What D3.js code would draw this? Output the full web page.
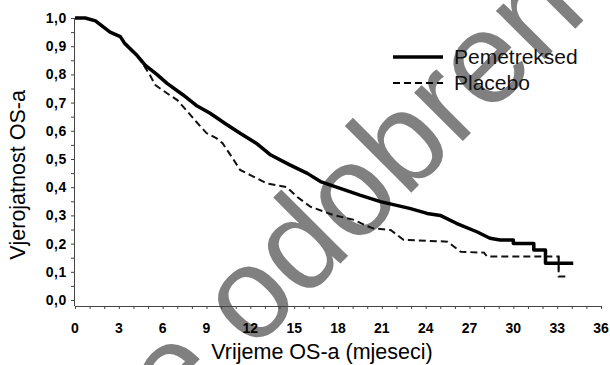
<!DOCTYPE html>
<html>
<head>
<meta charset="utf-8">
<script src="https://cdn.jsdelivr.net/npm/d3@7.9.0/dist/d3.min.js"></script>
<style>
  body { margin: 0; background: #fff; }
  svg { display: block; font-family: "Liberation Sans", Arial, sans-serif; }
</style>
</head>
<body>
<svg id="chart" width="610" height="365"></svg>
<script>
// Kaplan-Meier curves (months, survival probability)
const pemMonths = [0, 0.7, 1.4, 2.4, 3.1, 3.4, 4.2, 4.8, 5.6, 6.3, 7.4, 8.3, 9.25, 10.3, 11.3, 12.4, 13.4, 14.7, 15.9, 16.8, 18.15, 19.5, 20.9, 22.9, 24.1, 25.0, 26.1, 27.5, 28.4, 29.1, 30.0, 30.0, 31.4, 31.4, 32.2, 32.2, 34.1];
const pemSurv   = [1.0, 1.0, 0.99, 0.95, 0.934, 0.91, 0.87, 0.833, 0.80, 0.768, 0.727, 0.69, 0.662, 0.625, 0.591, 0.556, 0.514, 0.479, 0.449, 0.42, 0.396, 0.372, 0.349, 0.325, 0.307, 0.30, 0.272, 0.242, 0.219, 0.213, 0.213, 0.20, 0.20, 0.177, 0.177, 0.13, 0.13];

const plaMonths = [0, 0.7, 1.4, 2.4, 3.1, 3.4, 4.2, 4.8, 5.1, 5.5, 6.3, 7.0, 7.6, 8.3, 9.0, 9.7, 10.1, 10.8, 11.3, 12.0, 13.1, 14.5, 15.2, 16.1, 17.7, 19.1, 20.0, 20.4, 21.6, 22.5, 25.5, 26.4, 28.0, 28.2, 33.1, 33.1, 33.7];
const plaSurv   = [1.0, 1.0, 0.99, 0.95, 0.934, 0.91, 0.87, 0.825, 0.80, 0.762, 0.733, 0.709, 0.674, 0.632, 0.592, 0.573, 0.556, 0.502, 0.461, 0.443, 0.414, 0.40, 0.366, 0.331, 0.301, 0.284, 0.262, 0.254, 0.248, 0.213, 0.207, 0.171, 0.168, 0.154, 0.154, 0.083, 0.083];

const censorPem = [[33.1, 0.13]];

const xTicks = [0, 3, 6, 9, 12, 15, 18, 21, 24, 27, 30, 33, 36];
const yTicks = [0, 0.1, 0.2, 0.3, 0.4, 0.5, 0.6, 0.7, 0.8, 0.9, 1.0];
const seriesNames = ["Pemetreksed", "Placebo"];

const svg = d3.select('#chart');

// watermark sits under everything
const wm = svg.append('g').attr('transform', 'translate(252,352) rotate(-45)')
    .attr('fill', '#808080').attr('font-size', 130);
wm.append('text').attr('text-anchor', 'end').text('Lijek više nije\u00a0');
wm.append('text').attr('text-anchor', 'start').text('odobren');

const x = d3.scaleLinear().domain([0, 36]).range([75, 601]);
const y = d3.scaleLinear().domain([0, 1]).range([300, 18]);

// axes
const xAxis = svg.append('g').attr('transform', 'translate(0,306)')
    .call(d3.axisBottom(x).tickValues(d3.range(0, 37)).tickFormat('').tickSize(3).tickSizeOuter(0));
const yAxis = svg.append('g').attr('transform', 'translate(74,0)')
    .call(d3.axisLeft(y).tickValues(d3.range(0, 1.001, 0.05)).tickFormat('').tickSize(3).tickSizeOuter(0));
svg.selectAll('.domain, .tick line').attr('stroke', '#444').attr('stroke-width', 1);
yAxis.select('.domain').attr('d', 'M0.5,18V306');

svg.append('g').selectAll('text').data(xTicks).join('text')
    .attr('x', d => x(d)).attr('y', 333)
    .attr('text-anchor', 'middle').attr('font-size', 14).attr('font-weight', 'bold')
    .text(d => d);

svg.append('g').selectAll('text').data(yTicks).join('text')
    .attr('x', 67).attr('y', d => y(d) + 5)
    .attr('text-anchor', 'end').attr('font-size', 14).attr('font-weight', 'bold')
    .attr('letter-spacing', 0.6)
    .text(d => d3.format('.1f')(d).replace('.', ','));

svg.append('text').attr('x', 322).attr('y', 359)
    .attr('text-anchor', 'middle').attr('font-size', 21.5)
    .text('Vrijeme OS-a (mjeseci)');
svg.append('text').attr('transform', 'translate(25,175) rotate(-90)')
    .attr('text-anchor', 'middle').attr('font-size', 21.5)
    .text('Vjerojatnost OS-a');

// curves
const line = d3.line().x(d => x(d[0])).y(d => y(d[1]));
const pemData = pemMonths.map((m, i) => [m, pemSurv[i]]);
const plaData = plaMonths.map((m, i) => [m, plaSurv[i]]);

svg.append('path').attr('d', line(plaData))
    .attr('fill', 'none').attr('stroke', '#111').attr('stroke-width', 2)
    .attr('stroke-dasharray', '7,4');
svg.append('path').attr('d', line(pemData))
    .attr('fill', 'none').attr('stroke', '#000').attr('stroke-width', 3.5)
    .attr('stroke-linejoin', 'round');

svg.append('g').selectAll('line').data(censorPem).join('line')
    .attr('x1', d => x(d[0])).attr('x2', d => x(d[0]))
    .attr('y1', d => y(d[1]) - 7).attr('y2', d => y(d[1]) + 7)
    .attr('stroke', '#000').attr('stroke-width', 1.5);

// legend
const legend = svg.append('g');
seriesNames.forEach((name, i) => {
    const ly = 57 + i * 26;
    legend.append('line').attr('x1', 393).attr('x2', 443).attr('y1', ly).attr('y2', ly)
        .attr('stroke', '#000').attr('stroke-width', i === 0 ? 3.5 : 2)
        .attr('stroke-dasharray', i === 0 ? null : '7,4');
    legend.append('text').attr('x', 454).attr('y', ly + 7)
        .attr('font-size', 21).attr('fill', '#111').text(name);
});
</script>
</body>
</html>
